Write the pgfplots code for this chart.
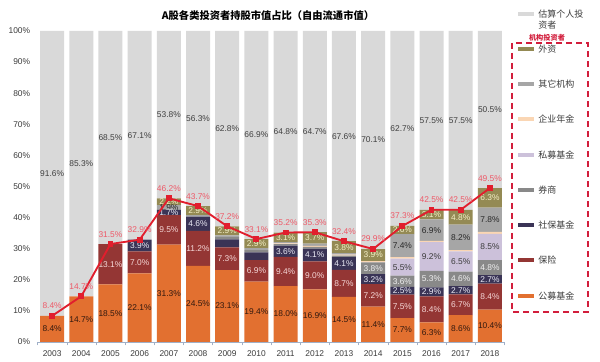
\documentclass[border=0pt]{standalone}
\usepackage{fontspec}
\setmainfont{Liberation Sans}
\newfontfamily\cjk{Noto Sans CJK SC}
\usepackage{pgfplots}
\usepackage{pgfplotstable}
\pgfplotsset{compat=1.18}

\definecolor{cPub}{RGB}{226,112,48}
\definecolor{cIns}{RGB}{148,54,52}
\definecolor{cSS}{RGB}{58,52,86}
\definecolor{cBr}{RGB}{137,137,137}
\definecolor{cPE}{RGB}{204,193,218}
\definecolor{cEA}{RGB}{250,214,180}
\definecolor{cOth}{RGB}{166,166,166}
\definecolor{cFx}{RGB}{148,138,84}
\definecolor{cInd}{RGB}{217,217,217}
\definecolor{cLine}{RGB}{225,30,45}
\definecolor{cLab}{RGB}{238,90,105}
\definecolor{cBox}{RGB}{210,30,60}
\definecolor{cAx}{RGB}{160,176,200}
\definecolor{cTxt}{RGB}{60,60,60}
\definecolor{tPub}{RGB}{50,25,15}
\definecolor{tIns}{RGB}{245,215,215}
\definecolor{tSS}{RGB}{235,235,245}
\definecolor{tBr}{RGB}{240,240,240}
\definecolor{tPE}{RGB}{60,60,60}
\definecolor{tOth}{RGB}{40,40,40}
\definecolor{tFx}{RGB}{245,240,200}
\definecolor{tInd}{RGB}{64,64,64}

\newcommand\lbl{\fontsize{6.3}{7}\selectfont}

\pgfplotstableread{
i pub ins ss br pe ea oth fx ind tot lpub lins lss lbr lpe loth lfx lind
0 8.4 0 0 0 0 0 0 0 91.6 8.4 8.4\% {} {} {} {} {} {} 91.6\%
1 14.7 0 0 0 0 0 0 0 85.3 14.7 14.7\% {} {} {} {} {} {} 85.3\%
2 18.5 13.0 0 0 0 0 0 0 68.5 31.5 18.5\% 13.1\% {} {} {} {} {} 68.5\%
3 22.1 7.0 3.8 0 0 0 0 0 67.1 32.9 22.1\% 7.0\% 3.9\% {} {} {} {} 67.1\%
4 31.3 9.5 1.7 0 0 0 1.5 2.2 53.8 46.2 31.3\% 9.5\% 1.7\% {} {} 1.9\% 2.2\% 53.8\%
5 24.5 11.2 4.6 0 0 0 0.5 2.9 56.3 43.7 24.5\% 11.2\% 4.6\% {} {} {} 2.9\% 56.3\%
6 23.1 7.3 2.6 0.7 0 0 0.6 2.9 62.8 37.2 23.1\% 7.3\% {} {} {} {} 2.9\% 62.8\%
7 19.4 6.9 2.5 0.7 0 0 0.7 2.9 66.9 33.1 19.4\% 6.9\% {} {} {} {} 2.9\% 66.9\%
8 18.0 9.4 3.6 0.5 0 0.2 0.4 3.1 64.8 35.2 18.0\% 9.4\% 3.6\% {} {} {} 3.1\% 64.8\%
9 16.9 9.0 4.1 0.6 0 0.3 0.7 3.7 64.7 35.3 16.9\% 9.0\% 4.1\% {} {} {} 3.7\% 64.7\%
10 14.5 8.7 4.1 0.5 0 0.3 0.5 3.8 67.6 32.4 14.5\% 8.7\% 4.1\% {} {} {} 3.8\% 67.6\%
11 11.4 7.2 3.2 3.8 0 0.4 0 3.9 70.1 29.9 11.4\% 7.2\% 3.2\% 3.8\% {} {} 3.9\% 70.1\%
12 7.7 7.5 2.5 3.6 5.5 0.5 7.4 2.6 62.7 37.3 7.7\% 7.5\% 2.5\% 3.6\% 5.5\% 7.4\% 2.6\% 62.7\%
13 6.3 8.4 2.9 5.3 9.2 0.4 6.9 3.1 57.5 42.5 6.3\% 8.4\% 2.9\% 5.3\% 9.2\% 6.9\% 3.1\% 57.5\%
14 8.6 6.7 2.7 4.6 6.5 0.4 8.2 4.8 57.5 42.5 8.6\% 6.7\% 2.7\% 4.6\% 6.5\% 8.2\% 4.8\% 57.5\%
15 10.4 8.4 2.7 4.8 8.5 0.6 7.8 6.3 50.5 49.5 10.4\% 8.4\% 2.7\% 4.8\% 8.5\% 7.8\% 6.3\% 50.5\%
}\data

\pgfplotsset{
  base/.style={at={(28.125pt,12.75pt)}, anchor=south west, scale only axis,
    width=350.25pt, height=233.25pt, xmin=-0.5, xmax=15.5, ymin=0, ymax=100,
    /pgf/number format/assume math mode=true},
  lab/.style 2 args={draw=none, fill=none, nodes near coords,
    point meta=explicit symbolic,
    every node near coord/.style={anchor=center, text=#2, font=\lbl, inner sep=0pt}},
}

\begin{document}
\begin{tikzpicture}
\fill[white] (0,0) rectangle (450pt,269.25pt);
\begin{axis}[base, ybar stacked, bar width=18pt,
  axis x line*=bottom, axis y line*=left,
  y axis line style={draw=none},
  x axis line style={color=cAx},
  ytick={0,10,...,100}, yticklabel={\pgfmathprintnumber{\tick}\%},
  xtick={0,...,15},
  xticklabels={2003,2004,2005,2006,2007,2008,2009,2010,2011,2012,2013,2014,2015,2016,2017,2018},
  major tick length=0pt,
  minor xtick={-0.5,0.5,...,15.5}, minor tick length=2.5pt, tick align=outside,
  minor x tick style={color=cAx},
  ticklabel style={font=\lbl, text=cTxt},
  xticklabel style={yshift=-3pt},
  yticklabel style={xshift=-2pt},
]
\addplot[fill=cPub,draw=none] table[x=i,y=pub]{\data};
\addplot[fill=cIns,draw=none] table[x=i,y=ins]{\data};
\addplot[fill=cSS,draw=none] table[x=i,y=ss]{\data};
\addplot[fill=cBr,draw=none] table[x=i,y=br]{\data};
\addplot[fill=cPE,draw=none] table[x=i,y=pe]{\data};
\addplot[fill=cEA,draw=none] table[x=i,y=ea]{\data};
\addplot[fill=cOth,draw=none] table[x=i,y=oth]{\data};
\addplot[fill=cFx,draw=none] table[x=i,y=fx]{\data};
\addplot[fill=cInd,draw=none] table[x=i,y=ind]{\data};
\end{axis}

\begin{axis}[base, ybar stacked, bar width=18pt, hide axis]
\addplot[lab={pub}{tPub}] table[x=i,y=pub,meta=lpub]{\data};
\addplot[lab={ins}{tIns}] table[x=i,y=ins,meta=lins]{\data};
\addplot[lab={ss}{tSS}] table[x=i,y=ss,meta=lss]{\data};
\addplot[lab={br}{tBr}] table[x=i,y=br,meta=lbr]{\data};
\addplot[lab={pe}{tPE}] table[x=i,y=pe,meta=lpe]{\data};
\addplot[draw=none,fill=none] table[x=i,y=ea]{\data};
\addplot[lab={oth}{tOth}] table[x=i,y=oth,meta=loth]{\data};
\addplot[lab={fx}{tFx}] table[x=i,y=fx,meta=lfx]{\data};
\addplot[lab={ind}{tInd}] table[x=i,y=ind,meta=lind]{\data};
\end{axis}

\begin{axis}[base, hide axis]
\addplot[cLine, line width=1.4pt, mark=square*, mark size=1.5pt,
  nodes near coords={\pgfmathprintnumber[fixed,fixed zerofill,precision=1]{\pgfplotspointmeta}\%},
  point meta=y,
  every node near coord/.append style={text=cLab, font=\lbl, anchor=south, inner sep=0pt, yshift=4.5pt}]
  table[x=i,y=tot]{\data};
\end{axis}

\begin{scope}[x=0.75pt,y=-0.75pt,yshift=269.25pt]
\node[font=\cjk\bfseries\fontsize{7.7}{9}\selectfont, text=black] at (268,16) {A股各类投资者持股市值占比（自由流通市值）};
\fill[cInd] (518,12.5) rectangle (534,16);
\node[anchor=west, inner sep=0pt, font=\cjk\fontsize{6.75}{8}\selectfont, text=cTxt] at (538,14) {估算个人投};
\node[anchor=west, inner sep=0pt, font=\cjk\fontsize{6.75}{8}\selectfont, text=cTxt] at (538,25) {资者};
\node[font=\cjk\bfseries\fontsize{5.4}{6}\selectfont, text=cBox] at (547,38) {机构投资者};
\draw[cBox, line width=1.1pt, dash pattern=on 4.5pt off 3pt] (512,43) rectangle (588,312);
\foreach \yy/\cc/\tt in {49/cFx/外资, 84/cOth/其它机构, 119/cEA/企业年金, 155/cPE/私募基金, 190/cBr/券商, 225/cSS/社保基金, 260/cIns/保险, 296/cPub/公募基金}{
  \fill[\cc] (518,\yy-1.7) rectangle (534,\yy+1.7);
  \node[anchor=west, inner sep=0pt, font=\cjk\fontsize{6.75}{8}\selectfont, text=cTxt] at (538,\yy) {\tt};
}
\end{scope}
\end{tikzpicture}
\end{document}
